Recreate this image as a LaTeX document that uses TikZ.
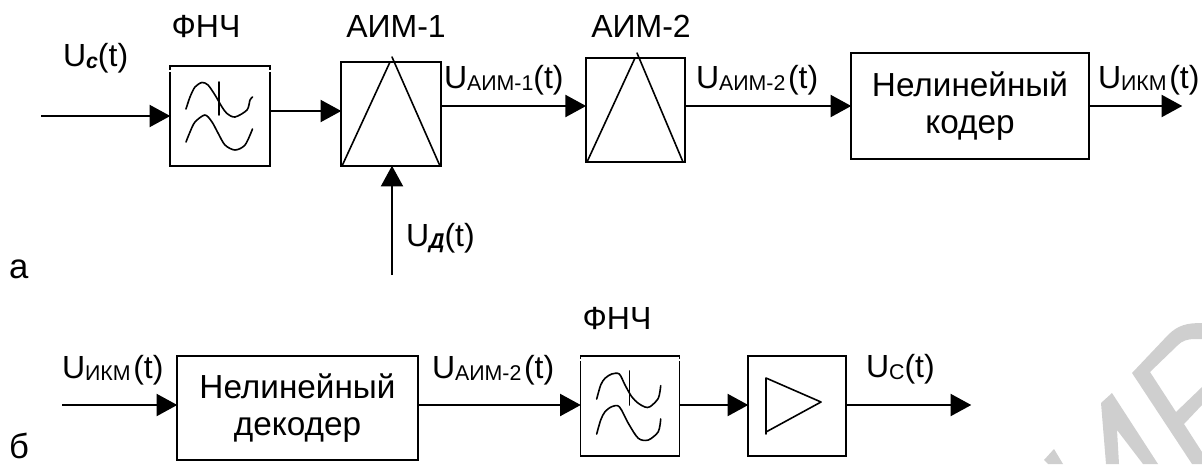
\documentclass[tikz,border=0pt]{standalone}
\usepackage{fontspec}
\setmainfont{Liberation Sans}
\usetikzlibrary{arrows.meta}
\newcommand{\subU}[1]{U{\fontsize{16}{16}\selectfont\raisebox{-2.2pt}{#1}}}
\tikzset{
  x=0.75pt,y=-0.75pt,
  box/.style={draw=black,line width=1.4pt,inner sep=0,outer sep=0,fill=none},
  lbl/.style={inner sep=0,outer sep=0,anchor=base west,font=\fontsize{24}{28}\selectfont},
  ctr/.style={inner sep=0,outer sep=0,anchor=base,font=\fontsize{24}{28}\selectfont},
  bigtxt/.style={align=center,font=\fontsize{25}{28}\selectfont},
  letter/.style={inner sep=0,outer sep=0,anchor=base west,font=\fontsize{26}{28}\selectfont},
  arr/.style={line width=1.5pt,-{Triangle[length=15.5pt,width=16.5pt]},shorten >=-0.2pt},
  thin line/.style={line width=1.2pt,line cap=round,line join=round},
  gapline/.style={white,line width=1.8pt},
  wm/.style={fill=black!19,draw=none}
}
\begin{document}
\begin{tikzpicture}
\useasboundingbox (0,0) rectangle (1202,464);
% watermark
\begin{scope}
\clip (0,0) rectangle (1202,464);
\fill[wm] (1054,449) -- (1044,460) -- (1048,464) -- (1063,464) -- cycle;
\fill[wm] (1112,393) -- (1101,403) -- (1106,464) -- (1119,464) -- (1117,430) -- (1143,464) -- (1158,464) -- cycle;
\fill[wm] (1132,373) -- (1168,335) .. controls (1178,325) and (1187,323) .. (1202,323) -- (1202,339) -- (1195,339) .. controls (1187,339) and (1182,341) .. (1178,345) -- (1150,372) -- (1176,412) -- (1202,387) -- (1202,405) -- (1184,424) -- (1202,452) -- (1202,464) -- (1192,464) -- cycle;
\end{scope}

% part a
\node[box,minimum width=75pt,minimum height=75pt] (f1) at (220,116) {};
\draw[gapline] (170,69.5) -- (170,72) (270,69.5) -- (270,72);
\node[box,minimum width=75pt,minimum height=78pt] (a1) at (391,114) {};
\node[box,minimum width=74.5pt,minimum height=78pt] (a2) at (635.5,110) {};
\node[box,bigtxt,minimum width=178.5pt,minimum height=80pt] (k) at (970,106) {Нелинейный\\кодер};

\coordinate (inA) at (41,116);
\coordinate (outA) at (1182,106);
\coordinate (clk) at (392,275);

\draw[arr] (inA) -- (f1.west);
\draw[arr] ([yshift=3.75pt]f1.east) -- ([yshift=2.25pt]a1.west);
\draw[arr] (a1.east |- k.west) -- (a2.west |- k.west);
\draw[arr] (a2.east |- k.west) -- (k.west);
\draw[arr] (k.east) -- (outA);
\draw[arr] (clk) -- (clk |- a1.south);

% filter a
\draw[thin line] plot[smooth] coordinates {(186,109) (190,97) (195,87) (202,82.5) (208,85) (215,95) (222,107) (227,113.5) (235,117) (247,110) (250,100) (252.5,97)};
\draw[thin line] plot[smooth] coordinates {(186,142) (190,132) (195,122) (205,115) (212,122) (218,133) (225,145) (235,150) (245,145) (252.5,129)};
\draw[thin line] (219,82) -- (219,115);
% pulses
\draw[thin line] (342,166) -- (390,62) (392,57) -- (440,166);
\draw[thin line] (587,162) -- (635,58) (637,53) -- (683,162);

% labels a
\node[ctr] (tf1) at (206,37.5) {ФНЧ};
\node[ctr] (ta1) at (396,37.5) {АИМ-1};
\node[ctr] (ta2) at (641,37.5) {АИМ-2};
\node[lbl] (tuc) at (63,66) {\subU{\bfseries\itshape c}(t)};
\node[lbl] (tu1) at (444,88) {\subU{АИМ-1}(t)};
\node[lbl] (tu2) at (696,88) {\subU{АИМ-2}\hspace{2pt}(t)};
\node[lbl] (tu3) at (1098,88) {\subU{ИКМ}\hspace{2pt}(t)};
\node[lbl] (tud) at (406,246) {\subU{\bfseries\itshape Д}(t)};
\node[letter] (ta) at (9,278) {а};

% part b
\node[box,bigtxt,minimum width=180.75pt,minimum height=78pt] (d) at (297.5,408) {Нелинейный\\декодер};
\node[box,minimum width=74.25pt,minimum height=75pt] (f2) at (630,406) {};
\draw[gapline] (581,358.5) -- (581,361) (679,358.5) -- (679,361);
\node[box,minimum width=73.5pt,minimum height=75pt] (u) at (797,406) {};

\coordinate (inB) at (62,405);
\coordinate (outB) at (971,405);
\draw[arr] (inB) -- (d.west |- inB);
\draw[arr] (d.east |- inB) -- (f2.west |- inB);
\draw[arr] (f2.east |- inB) -- (u.west |- inB);
\draw[arr] (u.east |- inB) -- (outB);

% filter b
\draw[thin line] plot[smooth] coordinates {(596.7,399) (600.7,385) (605,378.3) (611.7,374) (619.3,374) (625,385) (631.7,396.7) (638.3,403.3) (645,407) (650,406.7) (658.3,398.3) (660.7,385.7)};
\draw[thin line] plot[smooth] coordinates {(596.7,434) (600.7,420) (605,411.7) (611.7,406.7) (619.3,406.7) (628.3,423.3) (638.3,438.3) (648.3,440) (658.3,431.7) (660.7,419)};
\draw[thin line] (629.3,371) -- (629.3,405);
% amplifier
\draw[thin line] (766,434) -- (766,378) -- (821,402) -- (766,432);

% labels b
\node[lbl] (tik) at (62,378) {\subU{ИКМ}\hspace{2pt}(t)};
\node[lbl] (tu4) at (432,378) {\subU{АИМ-2}\hspace{2pt}(t)};
\node[ctr] (tf2) at (617,329) {ФНЧ};
\node[lbl] (tus) at (866,377) {\subU{C}(t)};
\node[letter] (tb) at (9,458.5) {б};
\end{tikzpicture}
\end{document}
